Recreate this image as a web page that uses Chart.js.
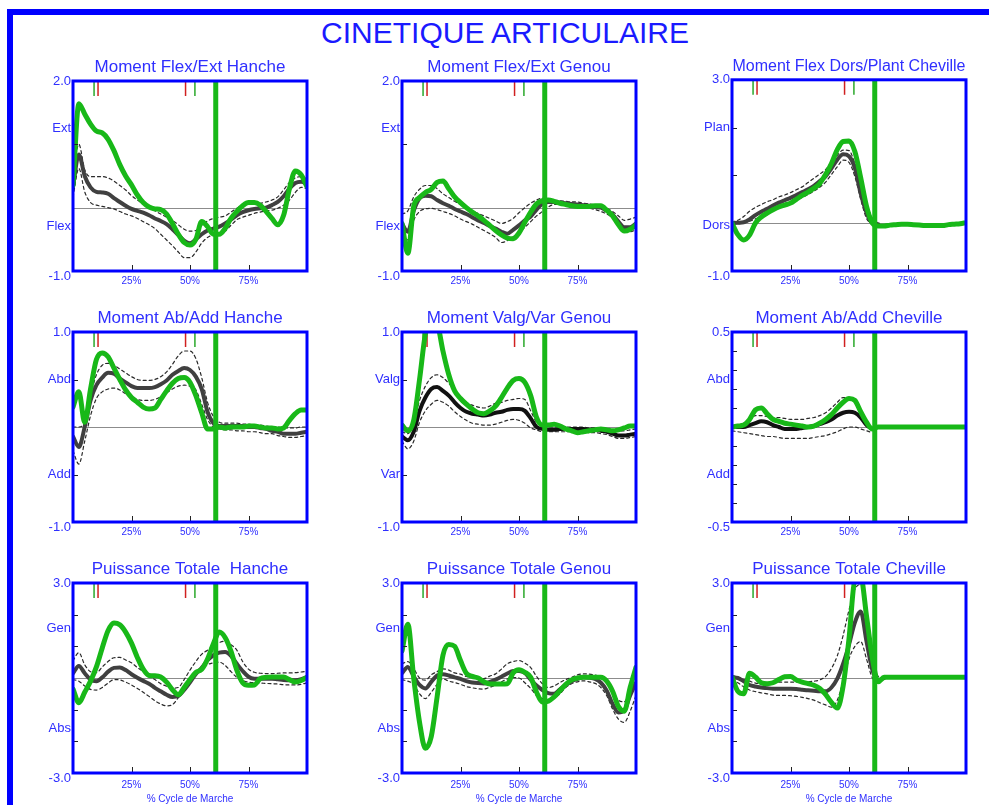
<!DOCTYPE html>
<html><head><meta charset="utf-8">
<script src="https://cdn.jsdelivr.net/npm/chart.js@4.4.1/dist/chart.umd.min.js"></script>
<style>
html,body{margin:0;padding:0;width:989px;height:805px;overflow:hidden;background:#fff;}
#frameTop{position:absolute;left:7px;top:9px;width:982px;height:6px;background:#0000ff;}
#frameLeft{position:absolute;left:7px;top:9px;width:6px;height:796px;background:#0000ff;}
#mainTitle{position:absolute;left:255px;top:18px;width:500px;text-align:center;font-family:"Liberation Sans",Arial,sans-serif;font-size:30px;line-height:30px;color:#1a1aff;white-space:nowrap;}
canvas{position:absolute;}
</style></head><body>
<div id="frameTop"></div><div id="frameLeft"></div>
<div id="mainTitle">CINETIQUE ARTICULAIRE</div>
<script>
// ---------- DATA ----------
const CYCLE = [0,2.5,5,7.5,10,12.5,15,17.5,20,22.5,25,27.5,30,32.5,35,37.5,40,42.5,45,47.5,50,52.5,55,57.5,60,62.5,65,67.5,70,72.5,75,77.5,80,82.5,85,87.5,90,92.5,95,97.5,100];
const X_TICKS = [25,50,75];
const MARK_GREEN = [9.0,52.1];
const MARK_RED = [10.7,48.1];
const TOE_OFF = 61;

// Moment Flex/Ext Hanche
const HIP_FE_MEAN = [0.33,0.84,0.50,0.32,0.25,0.24,0.22,0.15,0.09,0.03,-0.02,-0.05,-0.08,-0.12,-0.17,-0.21,-0.26,-0.34,-0.43,-0.52,-0.56,-0.50,-0.42,-0.36,-0.33,-0.30,-0.25,-0.19,-0.12,-0.07,-0.04,-0.02,-0.01,0.0,0.04,0.09,0.18,0.30,0.39,0.41,0.38];
const HIP_FE_UP = [0.55,1.0,0.60,0.49,0.49,0.49,0.47,0.42,0.35,0.28,0.19,0.12,0.06,0.0,-0.05,-0.10,-0.15,-0.20,-0.27,-0.34,-0.37,-0.36,-0.28,-0.21,-0.17,-0.15,-0.13,-0.07,-0.01,0.04,0.06,0.07,0.07,0.09,0.12,0.17,0.28,0.40,0.47,0.49,0.45];
const HIP_FE_LO = [0.17,0.62,0.25,0.08,0.04,0.02,0.0,-0.02,-0.06,-0.10,-0.13,-0.17,-0.22,-0.27,-0.33,-0.42,-0.51,-0.60,-0.70,-0.79,-0.79,-0.70,-0.56,-0.47,-0.43,-0.40,-0.37,-0.28,-0.19,-0.15,-0.12,-0.09,-0.07,-0.05,-0.04,-0.01,0.04,0.12,0.24,0.32,0.30];
const HIP_FE_PAT = [0.35,1.64,1.48,1.32,1.21,1.18,1.08,0.90,0.68,0.50,0.36,0.20,0.08,0.01,-0.02,-0.03,-0.10,-0.25,-0.42,-0.55,-0.59,-0.50,-0.22,-0.30,-0.42,-0.42,-0.33,-0.17,-0.06,0.03,0.08,0.08,0.04,-0.06,-0.17,-0.27,-0.12,0.30,0.58,0.52,0.33];
const HIP_FE_YVAL = [2,1.25,-0.3,-1];
const HIP_FE_YTXT = ['2.0','Ext','Flex','-1.0'];
const HIP_FE_TICKS = [1];

// Moment Flex/Ext Genou
const KNEE_FE_MEAN = [-0.25,-0.38,-0.05,0.15,0.19,0.18,0.12,0.07,0.03,-0.02,-0.06,-0.10,-0.15,-0.20,-0.24,-0.29,-0.33,-0.38,-0.41,-0.35,-0.28,-0.20,-0.14,-0.03,0.06,0.09,0.09,0.08,0.07,0.06,0.05,0.04,0.03,0.01,0.0,-0.05,-0.11,-0.22,-0.31,-0.31,-0.25];
const KNEE_FE_UP = [-0.10,-0.05,0.17,0.29,0.35,0.35,0.30,0.22,0.16,0.10,0.05,0.0,-0.05,-0.09,-0.13,-0.17,-0.21,-0.25,-0.22,-0.17,-0.08,0.0,0.07,0.12,0.15,0.14,0.12,0.11,0.10,0.09,0.09,0.07,0.06,0.04,0.02,-0.01,-0.06,-0.13,-0.20,-0.18,-0.15];
const KNEE_FE_LO = [-0.40,-0.51,-0.20,-0.06,-0.02,-0.01,-0.03,-0.06,-0.09,-0.13,-0.18,-0.22,-0.26,-0.31,-0.36,-0.41,-0.47,-0.55,-0.52,-0.46,-0.39,-0.31,-0.22,-0.13,-0.06,0.01,0.05,0.05,0.04,0.03,0.02,0.0,-0.01,-0.03,-0.06,-0.10,-0.16,-0.25,-0.35,-0.38,-0.35];
const KNEE_FE_PAT = [-0.25,-0.72,0.02,0.16,0.24,0.29,0.40,0.42,0.30,0.17,0.08,0.0,-0.07,-0.13,-0.20,-0.28,-0.36,-0.43,-0.48,-0.49,-0.40,-0.23,-0.07,0.06,0.11,0.12,0.10,0.07,0.05,0.03,0.02,0.02,0.02,0.03,0.03,-0.04,-0.13,-0.27,-0.37,-0.34,-0.27];
const KNEE_FE_YVAL = [2,1.25,-0.3,-1];
const KNEE_FE_YTXT = ['2.0','Ext','Flex','-1.0'];
const KNEE_FE_TICKS = [1];

// Moment Flex Dors/Plant Cheville
const ANK_DP_MEAN = [0.0,0.01,0.02,0.08,0.17,0.24,0.30,0.37,0.43,0.48,0.53,0.59,0.65,0.71,0.78,0.88,0.98,1.15,1.33,1.44,1.40,1.15,0.62,0.22,0.0,-0.02,null,null,null,null,null,null,null,null,null,null,null,null,null,null,null];
const ANK_DP_UP = [0.02,0.06,0.14,0.25,0.33,0.39,0.45,0.49,0.55,0.59,0.64,0.70,0.76,0.85,0.94,1.03,1.12,1.28,1.42,1.53,1.52,1.25,0.86,0.42,0.10,0.0,null,null,null,null,null,null,null,null,null,null,null,null,null,null,null];
const ANK_DP_LO = [-0.02,-0.01,0.0,0.04,0.09,0.15,0.21,0.27,0.32,0.37,0.42,0.48,0.54,0.60,0.67,0.75,0.86,1.02,1.18,1.32,1.27,0.98,0.50,0.10,-0.02,null,null,null,null,null,null,null,null,null,null,null,null,null,null,null,null];
const ANK_DP_PAT = [0.0,-0.24,-0.35,-0.25,0.0,0.13,0.21,0.28,0.34,0.38,0.42,0.50,0.58,0.65,0.73,0.83,1.02,1.25,1.54,1.71,1.72,1.50,0.95,0.35,0.0,-0.06,-0.06,-0.04,-0.03,-0.02,-0.02,-0.03,-0.04,-0.05,-0.05,-0.05,-0.05,-0.03,-0.02,-0.01,0.01];
const ANK_DP_YVAL = [3,2,-0.05,-1];
const ANK_DP_YTXT = ['3.0','Plan','Dors','-1.0'];
const ANK_DP_TICKS = [2,1];

// Moment Ab/Add Hanche
const HIP_AA_MEAN = [-0.10,-0.21,0.0,0.28,0.44,0.52,0.57,0.56,0.51,0.47,0.43,0.41,0.41,0.41,0.42,0.45,0.49,0.55,0.59,0.62,0.60,0.53,0.40,0.16,0.04,0.01,0.01,0.01,0.01,0.01,0.0,0.0,-0.01,-0.02,-0.04,-0.05,-0.07,-0.07,-0.07,-0.06,-0.05];
const HIP_AA_UP = [0.0,0.0,0.05,0.33,0.55,0.65,0.67,0.65,0.61,0.57,0.53,0.50,0.49,0.49,0.50,0.53,0.58,0.66,0.75,0.80,0.80,0.72,0.52,0.26,0.11,0.05,0.04,0.04,0.04,0.03,0.03,0.02,0.02,0.01,0.0,0.0,-0.01,-0.01,-0.01,0.0,0.0];
const HIP_AA_LO = [-0.25,-0.39,-0.15,0.12,0.30,0.37,0.40,0.41,0.39,0.35,0.32,0.29,0.28,0.28,0.29,0.32,0.36,0.40,0.43,0.44,0.43,0.39,0.24,0.08,0.0,-0.02,-0.03,-0.03,-0.04,-0.04,-0.05,-0.05,-0.06,-0.07,-0.07,-0.09,-0.10,-0.11,-0.11,-0.10,-0.09];
const HIP_AA_PAT = [0.21,0.37,0.05,0.40,0.71,0.78,0.74,0.62,0.50,0.39,0.31,0.26,0.21,0.19,0.20,0.29,0.38,0.46,0.51,0.52,0.47,0.33,0.15,-0.02,-0.02,0.0,-0.01,0.0,0.0,0.0,0.01,0.01,0.0,-0.01,-0.01,-0.02,-0.01,0.07,0.14,0.18,0.18];
const HIP_AA_YVAL = [1,0.5,-0.5,-1];
const HIP_AA_YTXT = ['1.0','Abd','Add','-1.0'];
const HIP_AA_TICKS = [0.5,-0.5];

// Moment Valg/Var Genou
const KNEE_VV_MEAN = [-0.10,-0.14,-0.05,0.17,0.31,0.40,0.42,0.38,0.33,0.26,0.20,0.16,0.14,0.13,0.12,0.13,0.15,0.16,0.18,0.19,0.19,0.17,0.09,0.0,-0.02,-0.03,-0.03,-0.02,-0.02,-0.02,-0.02,-0.02,-0.03,-0.03,-0.04,-0.05,-0.07,-0.09,-0.09,-0.08,-0.07];
const KNEE_VV_UP = [-0.05,-0.07,0.05,0.28,0.43,0.52,0.55,0.52,0.46,0.39,0.32,0.26,0.23,0.21,0.20,0.22,0.25,0.26,0.28,0.29,0.30,0.29,0.17,0.05,0.01,0.0,0.0,0.0,0.0,0.0,0.0,0.0,-0.01,-0.01,-0.01,-0.02,-0.03,-0.04,-0.04,-0.03,-0.02];
const KNEE_VV_LO = [-0.15,-0.23,-0.15,0.05,0.17,0.24,0.28,0.26,0.22,0.16,0.11,0.07,0.04,0.03,0.02,0.02,0.03,0.05,0.07,0.08,0.07,0.04,-0.01,-0.03,-0.05,-0.05,-0.05,-0.05,-0.05,-0.05,-0.05,-0.05,-0.06,-0.06,-0.07,-0.08,-0.10,-0.12,-0.12,-0.11,-0.10];
const KNEE_VV_PAT = [0.02,-0.04,0.07,0.50,0.98,1.15,1.10,0.80,0.55,0.38,0.30,0.24,0.19,0.15,0.14,0.17,0.22,0.31,0.41,0.49,0.51,0.47,0.33,0.10,0.02,0.02,0.03,0.01,-0.02,-0.04,-0.06,-0.05,-0.04,-0.03,-0.02,-0.03,-0.04,-0.03,-0.01,0.01,0.01];
const KNEE_VV_YVAL = [1,0.5,-0.5,-1];
const KNEE_VV_YTXT = ['1.0','Valg','Var','-1.0'];
const KNEE_VV_TICKS = [0.5,-0.5];

// Moment Ab/Add Cheville
const ANK_AA_MEAN = [0.0,0.0,0.0,0.01,0.02,0.03,0.025,0.01,0.0,-0.01,-0.01,-0.01,-0.005,0.0,0.005,0.015,0.025,0.04,0.06,0.075,0.08,0.075,0.05,0.01,-0.01,null,null,null,null,null,null,null,null,null,null,null,null,null,null,null,null];
const ANK_AA_UP = [0.0,0.01,0.02,0.04,0.06,0.06,0.055,0.05,0.05,0.045,0.04,0.04,0.04,0.045,0.05,0.06,0.075,0.10,0.13,0.155,0.155,0.13,0.08,0.03,-0.01,null,null,null,null,null,null,null,null,null,null,null,null,null,null,null,null];
const ANK_AA_LO = [-0.02,-0.025,-0.03,-0.035,-0.04,-0.045,-0.05,-0.05,-0.055,-0.06,-0.06,-0.06,-0.06,-0.06,-0.055,-0.05,-0.045,-0.035,-0.025,-0.01,0.0,0.0,-0.01,-0.02,-0.03,null,null,null,null,null,null,null,null,null,null,null,null,null,null,null,null];
const ANK_AA_PAT = [0.0,0.005,0.01,0.04,0.09,0.10,0.07,0.04,0.03,0.02,0.015,0.01,0.005,0.0,0.005,0.02,0.04,0.065,0.10,0.13,0.15,0.14,0.08,0.025,-0.01,0.0,0.0,0.0,0.0,0.0,0.0,0.0,0.0,0.0,0.0,0.0,0.0,0.0,0.0,0.0,0.0];
const ANK_AA_YVAL = [0.5,0.25,-0.25,-0.5];
const ANK_AA_YTXT = ['0.5','Abd','Add','-0.5'];
const ANK_AA_TICKS = [0.4,0.3,0.2,0.1,-0.1,-0.2,-0.3,-0.4];

// Puissance Totale Hanche
const HIP_PW_MEAN = [0.15,0.38,0.15,-0.05,-0.10,0.02,0.20,0.32,0.33,0.25,0.12,0.01,-0.09,-0.18,-0.31,-0.42,-0.53,-0.60,-0.57,-0.38,-0.14,0.13,0.32,0.56,0.72,0.80,0.82,0.70,0.45,0.22,0.04,-0.02,-0.02,-0.02,-0.02,-0.04,-0.06,-0.07,-0.07,-0.04,0.03];
const HIP_PW_UP = [0.55,0.80,0.42,0.20,0.17,0.35,0.52,0.64,0.65,0.57,0.48,0.33,0.20,0.06,-0.05,-0.18,-0.26,-0.32,-0.30,-0.05,0.25,0.52,0.75,0.88,1.03,1.12,1.16,1.05,0.88,0.52,0.28,0.18,0.15,0.14,0.14,0.15,0.16,0.16,0.17,0.19,0.21];
const HIP_PW_LO = [-0.05,-0.10,-0.25,-0.36,-0.38,-0.30,-0.16,-0.05,-0.06,-0.13,-0.22,-0.33,-0.45,-0.58,-0.72,-0.82,-0.88,-0.84,-0.62,-0.36,-0.10,0.12,0.27,0.42,0.48,0.50,0.40,0.20,0.02,-0.08,-0.13,-0.15,-0.16,-0.17,-0.18,-0.19,-0.21,-0.22,-0.22,-0.20,-0.15];
const HIP_PW_PAT = [-0.35,-0.78,-0.45,-0.10,0.35,0.95,1.50,1.74,1.68,1.45,1.10,0.65,0.28,0.08,0.07,0.03,-0.13,-0.37,-0.53,-0.30,-0.05,0.18,0.27,0.60,1.08,1.45,1.28,0.85,0.25,-0.15,-0.23,-0.22,-0.02,0.02,0.03,0.03,0.03,-0.05,-0.13,-0.08,0.03];
const HIP_PW_YVAL = [3,1.55,-1.6,-3];
const HIP_PW_YTXT = ['3.0','Gen','Abs','-3.0'];
const HIP_PW_TICKS = [2,1,-1,-2];

// Puissance Totale Genou
const KNEE_PW_MEAN = [0.15,0.35,0.05,-0.22,-0.33,-0.12,0.08,0.12,0.08,0.02,-0.03,-0.10,-0.14,-0.16,-0.17,-0.12,-0.05,0.04,0.14,0.22,0.22,0.16,-0.05,-0.24,-0.38,-0.48,-0.50,-0.36,-0.22,-0.10,-0.03,0.02,0.01,-0.03,-0.15,-0.40,-0.82,-1.09,-1.02,-0.55,-0.15];
const KNEE_PW_UP = [0.45,0.52,0.30,0.0,-0.07,0.10,0.20,0.29,0.25,0.16,0.12,0.05,0.02,-0.01,-0.02,0.06,0.13,0.28,0.45,0.52,0.55,0.47,0.33,0.05,-0.18,-0.30,-0.25,-0.14,-0.05,0.02,0.10,0.13,0.12,0.09,0.03,-0.14,-0.45,-0.70,-0.75,-0.40,-0.05];
const KNEE_PW_LO = [-0.05,-0.10,-0.20,-0.50,-0.65,-0.45,-0.20,-0.03,-0.10,-0.14,-0.20,-0.27,-0.31,-0.34,-0.35,-0.29,-0.23,-0.12,-0.03,0.01,0.0,-0.15,-0.33,-0.55,-0.65,-0.72,-0.63,-0.50,-0.30,-0.18,-0.12,-0.09,-0.12,-0.17,-0.30,-0.56,-0.98,-1.30,-1.40,-1.05,-0.55];
const KNEE_PW_PAT = [0.85,1.70,0.0,-1.40,-2.22,-1.85,-0.60,0.72,1.06,1.00,0.55,0.15,0.05,0.0,-0.12,-0.19,-0.19,-0.19,-0.18,0.16,0.26,0.18,0.02,-0.45,-0.76,-0.73,-0.60,-0.40,-0.20,-0.06,0.0,0.02,0.02,0.02,0.02,-0.10,-0.42,-0.90,-1.05,-0.30,0.34];
const KNEE_PW_YVAL = [3,1.55,-1.6,-3];
const KNEE_PW_YTXT = ['3.0','Gen','Abs','-3.0'];
const KNEE_PW_TICKS = [2,1,-1,-2];

// Puissance Totale Cheville
const ANK_PW_MEAN = [0.02,0.0,-0.10,-0.22,-0.27,-0.30,-0.32,-0.34,-0.34,-0.34,-0.34,-0.35,-0.37,-0.39,-0.40,-0.42,-0.42,-0.30,-0.02,0.45,1.05,1.75,2.10,1.15,0.25,-0.06,0.0,null,null,null,null,null,null,null,null,null,null,null,null,null,null];
const ANK_PW_UP = [0.08,0.03,-0.05,-0.10,-0.16,-0.17,-0.15,-0.13,-0.13,-0.13,-0.13,-0.13,-0.13,-0.12,-0.10,-0.06,0.05,0.30,0.70,1.35,2.15,2.80,2.95,2.10,0.80,0.05,0.0,null,null,null,null,null,null,null,null,null,null,null,null,null,null];
const ANK_PW_LO = [-0.05,-0.15,-0.28,-0.38,-0.43,-0.47,-0.50,-0.54,-0.55,-0.55,-0.56,-0.58,-0.61,-0.65,-0.70,-0.78,-0.85,-0.92,-0.70,-0.10,0.60,1.00,1.15,0.60,0.0,-0.10,0.0,null,null,null,null,null,null,null,null,null,null,null,null,null,null];
const ANK_PW_PAT = [0.03,-0.42,-0.50,0.15,0.03,-0.15,-0.18,-0.15,-0.05,0.04,0.05,-0.06,-0.13,-0.18,-0.23,-0.33,-0.52,-0.77,-0.95,-0.25,1.24,3.1,3.2,1.95,0.61,-0.12,0.02,0.02,0.02,0.02,0.02,0.02,0.02,0.02,0.02,0.02,0.02,0.02,0.02,0.02,0.02];
const ANK_PW_YVAL = [3,1.55,-1.6,-3];
const ANK_PW_YTXT = ['3.0','Gen','Abs','-3.0'];
const ANK_PW_TICKS = [2,1,-1,-2];

// ---------- STYLE / LAYOUT ----------
const FONT = '"Liberation Sans", Arial, Helvetica, sans-serif';
const BLUE_TXT = '#2f2fff';
const GREEN = '#18b818';
const GRAY = '#404040';
const BLACK = '#111111';
const COL_LEFT = [73, 402, 732];
const ROW_TOP = [81, 332, 583];
const PLOT_W = 234, PLOT_H = 190;
const AX_W = 45, TOP_H = 32, BOT_H = 33, RIGHT_PAD = 10;

const PANELS = [
  {title:'Moment Flex/Ext Hanche', tsize:17, min:-1, max:2, yv:HIP_FE_YVAL, yt:HIP_FE_YTXT, tk:HIP_FE_TICKS, mean:HIP_FE_MEAN, up:HIP_FE_UP, lo:HIP_FE_LO, pat:HIP_FE_PAT, mc:GRAY},
  {title:'Moment Flex/Ext Genou', tsize:17, min:-1, max:2, yv:KNEE_FE_YVAL, yt:KNEE_FE_YTXT, tk:KNEE_FE_TICKS, mean:KNEE_FE_MEAN, up:KNEE_FE_UP, lo:KNEE_FE_LO, pat:KNEE_FE_PAT, mc:GRAY},
  {title:'Moment Flex Dors/Plant Cheville', tsize:16, min:-1, max:3, yv:ANK_DP_YVAL, yt:ANK_DP_YTXT, tk:ANK_DP_TICKS, mean:ANK_DP_MEAN, up:ANK_DP_UP, lo:ANK_DP_LO, pat:ANK_DP_PAT, mc:GRAY},
  {title:'Moment Ab/Add Hanche', tsize:17, min:-1, max:1, yv:HIP_AA_YVAL, yt:HIP_AA_YTXT, tk:HIP_AA_TICKS, mean:HIP_AA_MEAN, up:HIP_AA_UP, lo:HIP_AA_LO, pat:HIP_AA_PAT, mc:GRAY},
  {title:'Moment Valg/Var Genou', tsize:17, min:-1, max:1, yv:KNEE_VV_YVAL, yt:KNEE_VV_YTXT, tk:KNEE_VV_TICKS, mean:KNEE_VV_MEAN, up:KNEE_VV_UP, lo:KNEE_VV_LO, pat:KNEE_VV_PAT, mc:BLACK},
  {title:'Moment Ab/Add Cheville', tsize:17, min:-0.5, max:0.5, yv:ANK_AA_YVAL, yt:ANK_AA_YTXT, tk:ANK_AA_TICKS, mean:ANK_AA_MEAN, up:ANK_AA_UP, lo:ANK_AA_LO, pat:ANK_AA_PAT, mc:BLACK},
  {title:'Puissance Totale  Hanche', tsize:17, min:-3, max:3, yv:HIP_PW_YVAL, yt:HIP_PW_YTXT, tk:HIP_PW_TICKS, mean:HIP_PW_MEAN, up:HIP_PW_UP, lo:HIP_PW_LO, pat:HIP_PW_PAT, mc:GRAY},
  {title:'Puissance Totale Genou', tsize:17, min:-3, max:3, yv:KNEE_PW_YVAL, yt:KNEE_PW_YTXT, tk:KNEE_PW_TICKS, mean:KNEE_PW_MEAN, up:KNEE_PW_UP, lo:KNEE_PW_LO, pat:KNEE_PW_PAT, mc:GRAY},
  {title:'Puissance Totale Cheville', tsize:17, min:-3, max:3, yv:ANK_PW_YVAL, yt:ANK_PW_YTXT, tk:ANK_PW_TICKS, mean:ANK_PW_MEAN, up:ANK_PW_UP, lo:ANK_PW_LO, pat:ANK_PW_PAT, mc:GRAY}
];

function seg(ctx, x1, y1, x2, y2) { ctx.beginPath(); ctx.moveTo(x1, y1); ctx.lineTo(x2, y2); ctx.stroke(); }

const gaitPlugin = {
  id: 'gait',
  beforeDatasetsDraw(chart) {
    const {ctx, chartArea: a, scales: {x, y}} = chart;
    ctx.save();
    ctx.lineWidth = 1; ctx.strokeStyle = '#8c8c8c';
    const y0 = Math.round(y.getPixelForValue(0)) + 0.5;
    seg(ctx, a.left, y0, a.right, y0);
    ctx.lineWidth = 1.5;
    ctx.strokeStyle = '#2aa82a';
    MARK_GREEN.forEach(v => { const px = x.getPixelForValue(v); seg(ctx, px, a.top, px, a.top + 15); });
    ctx.strokeStyle = '#d02020';
    MARK_RED.forEach(v => { const px = x.getPixelForValue(v); seg(ctx, px, a.top, px, a.top + 15); });
    ctx.restore();
  },
  afterDatasetsDraw(chart, args, opts) {
    const {ctx, chartArea: a, scales: {x, y}} = chart;
    ctx.save();
    ctx.lineWidth = 5; ctx.strokeStyle = GREEN;
    const tx = x.getPixelForValue(TOE_OFF);
    seg(ctx, tx, a.top, tx, a.bottom);
    ctx.lineWidth = 1; ctx.strokeStyle = '#222';
    (opts.ticks || []).forEach(v => { const py = Math.round(y.getPixelForValue(v)) + 0.5; seg(ctx, a.left, py, a.left + 5, py); });
    X_TICKS.forEach(v => { const px = Math.round(x.getPixelForValue(v)) + 0.5; seg(ctx, px, a.bottom, px, a.bottom - 6); });
    ctx.lineWidth = 3; ctx.strokeStyle = '#0000ff';
    ctx.strokeRect(a.left, a.top, a.right - a.left, a.bottom - a.top);
    ctx.restore();
  }
};

Chart.defaults.font.family = FONT;

PANELS.forEach((p, idx) => {
  const col = idx % 3, row = Math.floor(idx / 3);
  const cv = document.createElement('canvas');
  cv.width = AX_W + PLOT_W + RIGHT_PAD;
  cv.height = TOP_H + PLOT_H + BOT_H;
  cv.style.left = (COL_LEFT[col] - AX_W) + 'px';
  cv.style.top = (ROW_TOP[row] - TOP_H) + 'px';
  document.body.appendChild(cv);
  const pts = arr => CYCLE.map((c, i) => ({x: c, y: arr[i]}));
  const range = p.max - p.min;
  new Chart(cv, {
    type: 'line',
    data: {
      datasets: [
        {data: pts(p.pat), borderColor: GREEN, borderWidth: 5},
        {data: pts(p.mean), borderColor: p.mc, borderWidth: 4},
        {data: pts(p.up), borderColor: '#2a2a2a', borderWidth: 1.2, borderDash: [3, 3]},
        {data: pts(p.lo), borderColor: '#2a2a2a', borderWidth: 1.2, borderDash: [3, 3]}
      ]
    },
    options: {
      responsive: false, animation: false, events: [],
      elements: {point: {radius: 0}, line: {cubicInterpolationMode: 'monotone', fill: false, borderCapStyle: 'round', borderJoinStyle: 'round'}},
      layout: {padding: {left: 0, right: RIGHT_PAD, top: 0, bottom: 0}},
      scales: {
        x: {
          type: 'linear', min: 0, max: 100,
          afterBuildTicks: s => { s.ticks = X_TICKS.map(v => ({value: v})); },
          ticks: {autoSkip: false, maxRotation: 0, padding: row === 2 ? 6 : 4, color: BLUE_TXT, font: {size: 10}, callback: v => v + '%'},
          grid: {display: false, drawTicks: false}, border: {display: false},
          title: {display: row === 2, text: '% Cycle de Marche', color: BLUE_TXT, font: {size: 10}, padding: {top: 0, bottom: 1}},
          afterFit: s => { s.height = BOT_H; }
        },
        y: {
          type: 'linear', min: p.min, max: p.max,
          afterBuildTicks: s => { s.ticks = p.yv.map(v => ({value: v === p.min ? v - range * 0.03 : v})); },
          ticks: {autoSkip: false, padding: 2, color: BLUE_TXT, font: {size: 13}, callback: (v, i) => p.yt[i]},
          grid: {display: false, drawTicks: false}, border: {display: false},
          afterFit: s => { s.width = AX_W; }
        }
      },
      plugins: {
        legend: {display: false}, tooltip: {enabled: false},
        title: {display: true, fullSize: false, text: p.title, color: BLUE_TXT, font: {size: p.tsize, weight: 'normal'}, padding: {top: 7.8, bottom: 3.8}},
        gait: {ticks: p.tk}
      }
    },
    plugins: [gaitPlugin]
  });
});
</script>
</body></html>
